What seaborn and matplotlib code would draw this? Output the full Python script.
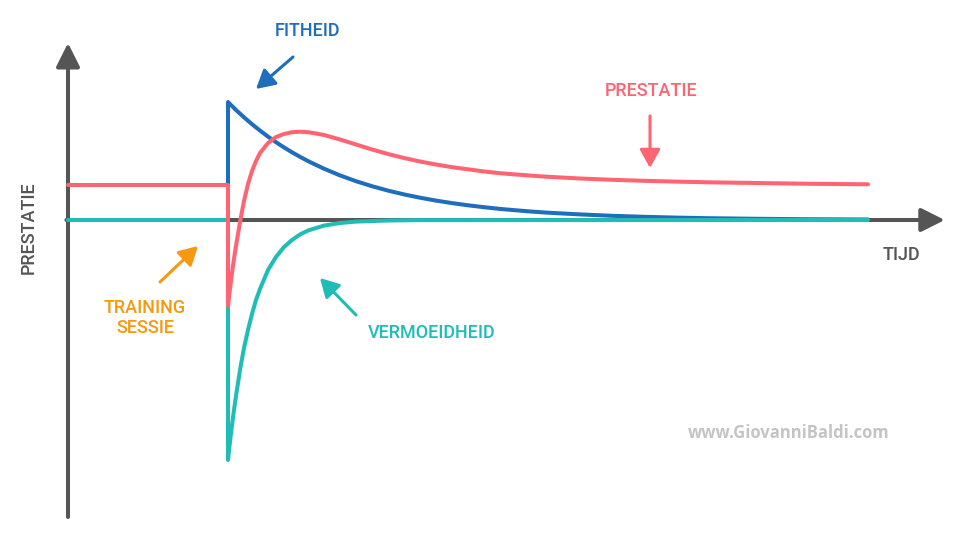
import numpy as np
import pandas as pd
import matplotlib
matplotlib.use("Agg")
import matplotlib.pyplot as plt
import seaborn as sns

# time in days (0 = training session), values in arbitrary units
fit_t = [0, 0, 0.5, 1, 1.5, 2, 2.5, 3, 3.5, 4, 4.5, 5, 6, 7, 8, 9, 10, 11, 12, 13, 14,
         15, 16, 17, 18, 19, 20, 22, 24, 26, 28, 30, 33, 36, 40]
fit_v = [0, 11.8, 11.0, 10.27, 9.58, 8.94, 8.34, 7.78, 7.26, 6.77, 6.32, 5.89, 5.13,
         4.46, 3.88, 3.38, 2.94, 2.56, 2.23, 1.94, 1.69, 1.47, 1.28, 1.11, 0.97, 0.84,
         0.73, 0.56, 0.42, 0.32, 0.24, 0.18, 0.12, 0.08, 0.05]

fat_t = [-10, 0, 0, 0.1, 0.25, 0.4, 0.5, 0.75, 1, 1.25, 1.5, 1.75, 2, 2.5, 3, 3.5, 4,
         4.5, 5, 6, 7, 8, 10, 12, 40]
fat_v = [0, 0, -24, -22.5, -20.5, -18.7, -17.6, -15.0, -12.8, -11.0, -9.4, -8.0, -6.9,
         -5.0, -3.7, -2.7, -2.0, -1.45, -1.05, -0.56, -0.30, -0.16, -0.05, -0.01, 0]

perf_t = [-10, 0, 0, 0.1, 0.25, 0.4, 0.5, 0.75, 1, 1.25, 1.5, 1.75, 2, 2.5, 3, 3.5, 4,
          4.5, 5, 5.5, 6, 7, 8, 9, 10, 11, 12, 13, 14, 15, 16, 17, 18, 19, 20, 22, 24,
          26, 28, 30, 33, 36, 40]
perf_v = [3.5, 3.5, -8.6, -7.2, -5.3, -3.6, -2.6, -0.2, 1.9, 3.6, 4.9, 5.9, 6.7, 7.7,
          8.3, 8.6, 8.78, 8.83, 8.78, 8.65, 8.5, 8.05, 7.55, 7.05, 6.6, 6.2, 5.85, 5.55,
          5.28, 5.07, 4.85, 4.68, 4.55, 4.43, 4.32, 4.15, 4.02, 3.92, 3.84, 3.77, 3.7,
          3.63, 3.57]

BLUE = "#1f6dbd"
TEAL = "#1fbdb6"
PINK = "#ff6473"
ORANGE = "#f7990f"
GREY = "#555555"

sns.set_theme(style="white")
plt.rcParams["font.family"] = ["Roboto", "DejaVu Sans"]

fig = plt.figure(figsize=(9.6, 5.4), dpi=100)
ax = fig.add_axes([0, 0, 1, 1])

# axes with arrow heads (below the curves)
axis_style = dict(arrowstyle="-|>,head_length=0.4,head_width=0.2", mutation_scale=36,
                  lw=2.9, color=GREY, shrinkA=0, shrinkB=0)
ax.annotate("", xy=(-10, 17.7), xytext=(-10, -29.7), arrowprops=axis_style, zorder=1)
ax.annotate("", xy=(44.8, 0), xytext=(-10.1, 0), arrowprops=axis_style, zorder=1)

fit = pd.DataFrame({"t": fit_t, "v": fit_v})
fat = pd.DataFrame({"t": fat_t, "v": fat_v})
perf = pd.DataFrame({"t": perf_t, "v": perf_v})

line_kw = dict(x="t", y="v", sort=False, estimator=None, lw=2.9,
               solid_capstyle="round", solid_joinstyle="round", ax=ax)
sns.lineplot(data=fit, color=BLUE, zorder=2, **line_kw)
sns.lineplot(data=fat, color=TEAL, zorder=3, **line_kw)
sns.lineplot(data=perf, color=PINK, zorder=4, **line_kw)
ax.set_xlim(-14.25, 45.75)
ax.set_ylim(-32, 22)
ax.axis("off")


def fp(x, y):
    # image pixel -> figure fraction
    return x / 960, 1 - y / 540


def arrow(tail, tip, color):
    ax.annotate("", xy=(tip[0], 540 - tip[1]), xytext=(tail[0], 540 - tail[1]),
                xycoords="figure pixels", textcoords="figure pixels",
                arrowprops=dict(arrowstyle="-|>,head_length=0.45,head_width=0.25",
                                mutation_scale=25, lw=2.2, color=color,
                                shrinkA=0, shrinkB=0))


lab = dict(ha="center", va="center", fontsize=13, fontweight="medium")
fig.text(*fp(307, 31), "FITHEID", color=BLUE, **lab)
fig.text(*fp(651, 91), "PRESTATIE", color=PINK, **lab)
fig.text(*fp(432, 333), "VERMOEIDHEID", color=TEAL, **lab)
fig.text(*fp(145, 318), "TRAINING\nSESSIE", color=ORANGE, linespacing=1.2, **lab)
fig.text(*fp(901, 255), "TIJD", color=GREY, **lab)
fig.text(*fp(29, 228), "PRESTATIE", color=GREY, rotation=90, **lab)
fig.text(*fp(789, 433), "www.GiovanniBaldi.com", color="#c4c4c4", ha="center",
         va="center", fontsize=12, fontweight="bold", family=["Open Sans", "DejaVu Sans"])

arrow((293, 57), (256, 89), BLUE)
arrow((650, 116), (650, 168), PINK)
arrow((356, 315), (320, 278), TEAL)
arrow((160, 282), (198, 246), ORANGE)

fig.savefig("out.png", dpi=100)
